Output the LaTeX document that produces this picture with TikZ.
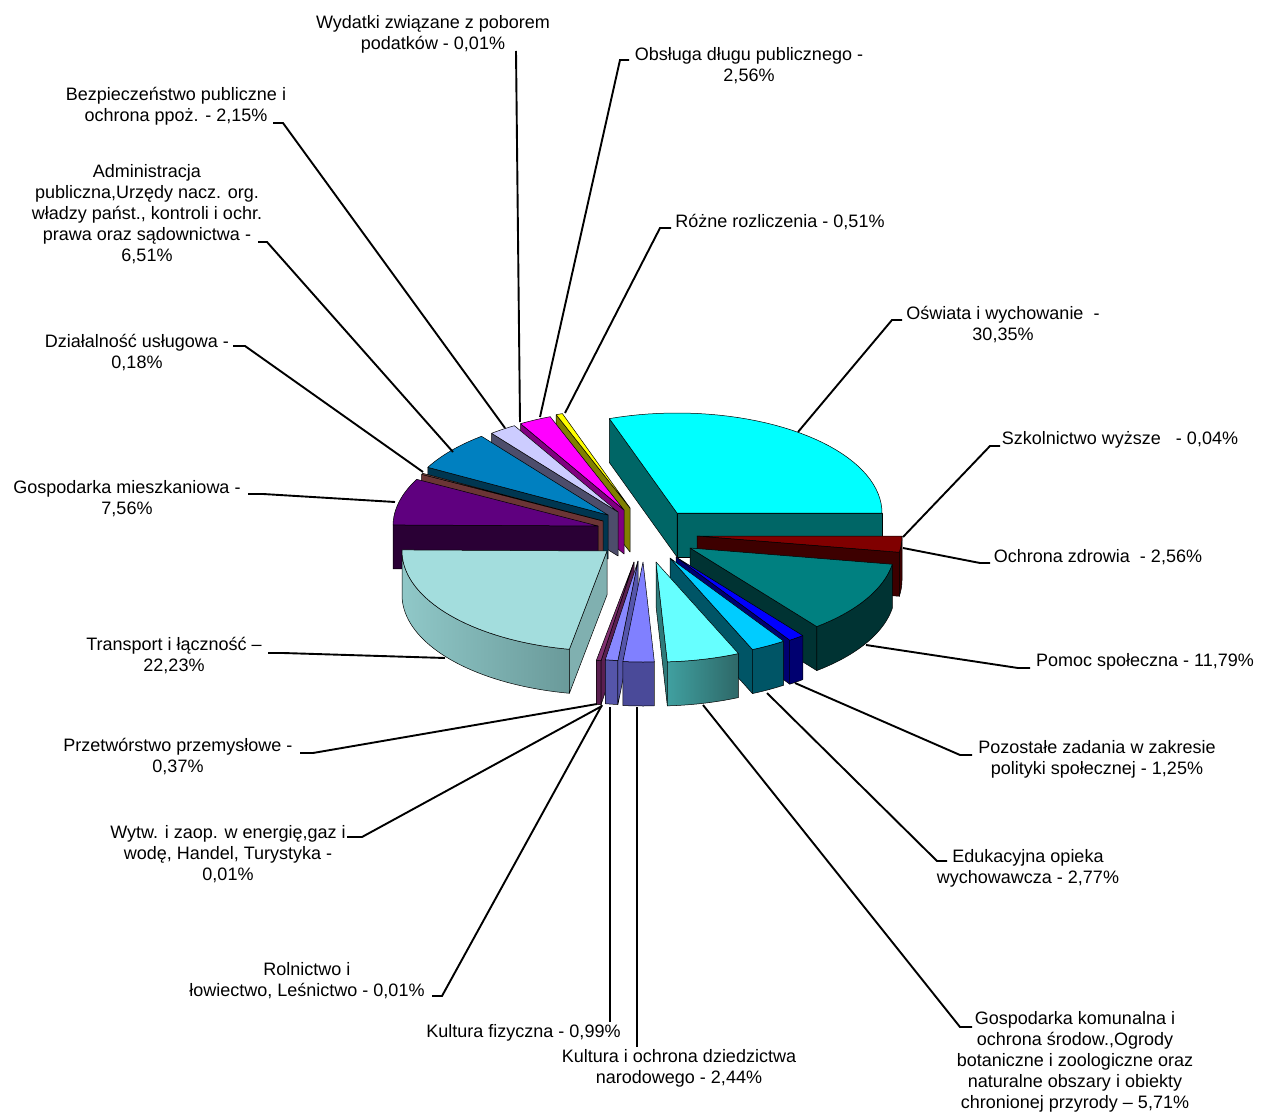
\documentclass[tikz,border=0pt]{standalone}
\usepackage{fontspec}
\setmainfont{Liberation Sans}
\definecolor{cyn}{HTML}{00FFFF}\definecolor{cynS}{HTML}{006666}
\definecolor{ylw}{HTML}{FFFF00}\definecolor{ylwS}{HTML}{808000}
\definecolor{mag}{HTML}{FF00FF}\definecolor{magS}{HTML}{800080}
\definecolor{lav}{HTML}{CCCCFF}\definecolor{lavS}{HTML}{4D4D6B}
\definecolor{adm}{HTML}{0080C0}\definecolor{admS}{HTML}{003650}
\definecolor{brn}{HTML}{9C5A50}\definecolor{brnS}{HTML}{6B3535}
\definecolor{pur}{HTML}{5F007F}\definecolor{purS}{HTML}{2A0035}
\definecolor{rdd}{HTML}{800000}\definecolor{rddS}{HTML}{3D0000}
\definecolor{tea}{HTML}{008080}\definecolor{teaS}{HTML}{003333}
\definecolor{trn}{HTML}{A3DDDD}\definecolor{trnS}{HTML}{80B0B0}
\definecolor{trnL}{HTML}{90C8C8}\definecolor{trnR}{HTML}{6A9A9A}
\definecolor{blu}{HTML}{0000FF}\definecolor{bluS}{HTML}{000070}
\definecolor{sky}{HTML}{00CCFF}\definecolor{skyS}{HTML}{005566}
\definecolor{prz}{HTML}{7F2F6F}\definecolor{przS}{HTML}{5A1F50}
\definecolor{kf}{HTML}{8888FF}\definecolor{kfS}{HTML}{5555AA}
\definecolor{ko}{HTML}{8080FF}\definecolor{koS}{HTML}{4A4A99}
\definecolor{gk}{HTML}{66FFFF}\definecolor{gkS}{HTML}{2E7A7A}
\definecolor{gkL}{HTML}{40A0A0}\definecolor{gkR}{HTML}{2E6868}
\def\ra{205}\def\rb{100}\def\dd{44}
\tikzset{
  lbl/.style={align=center, inner sep=0pt, font=\fontsize{18}{21}\selectfont},
  leader/.style={line width=1.9pt, black, line join=miter},
  face/.style={draw=black, line width=0.5pt, line join=round},
}
\newcommand{\drawslice}[8]{%
  \pgfmathsetmacro\cS{cos(#3)}%
  \pgfmathsetmacro\cE{cos(#4)}%
  \pgfmathsetmacro\lo{max(#3,180)}%
  \pgfmathsetmacro\hi{min(#4,360)}%
  \ifdim\cS pt>0.001pt
    \path[face,fill=#6] (#1,#2) -- ({#1+\ra*cos(#3)},{#2-\rb*sin(#3)}) -- ++(0,\dd) -- ({#1},{#2+\dd}) -- cycle;
  \fi
  \ifdim\hi pt>\lo pt
    \path[face,left color=#7,right color=#8] plot[domain=\lo:\hi,samples=40] ({#1+\ra*cos(\x)},{#2-\rb*sin(\x)}) -- plot[domain=\hi:\lo,samples=40] ({#1+\ra*cos(\x)},{#2-\rb*sin(\x)+\dd}) -- cycle;
  \fi
  \ifdim\cE pt<-0.001pt
    \path[face,fill=#6] (#1,#2) -- ({#1+\ra*cos(#4)},{#2-\rb*sin(#4)}) -- ++(0,\dd) -- ({#1},{#2+\dd}) -- cycle;
  \fi
  \path[face,fill=#5] (#1,#2) -- plot[domain=#3:#4,samples=40] ({#1+\ra*cos(\x)},{#2-\rb*sin(\x)}) -- cycle;
}
\begin{document}
\begin{tikzpicture}[x=1pt,y=-1pt]
\useasboundingbox[fill=white] (0,0) rectangle (1261,1115);

% slices, back to front
\drawslice{630}{508}{109.26}{111.10}{ylw}{ylwS}{ylwS}{ylwS}
\drawslice{624}{510}{111.10}{120.31}{mag}{magS}{magS}{magS}
\drawslice{618}{512}{120.35}{128.09}{lav}{lavS}{lavS}{lavS}
\drawslice{677}{513}{0}{109.26}{cyn}{cynS}{cynS}{cynS}
\drawslice{608}{515}{128.09}{151.52}{adm}{admS}{admS}{admS}
\drawslice{603}{521}{151.52}{152.17}{brn}{brnS}{brnS}{brnS}
\drawslice{598}{526}{152.17}{179.39}{pur}{purS}{purS}{purS}
\drawslice{697}{536}{350.64}{359.86}{rdd}{rddS}{rddS}{rddS}
\drawslice{690}{548}{308.20}{350.64}{tea}{teaS}{teaS}{teaS}
\drawslice{607}{551}{179.39}{259.42}{trn}{trnS}{trnL}{trnR}
\drawslice{676}{557}{303.70}{308.20}{blu}{bluS}{bluS}{bluS}
\drawslice{670}{558}{293.72}{303.70}{sky}{skyS}{skyS}{skyS}
\drawslice{634}{562}{259.42}{260.75}{prz}{przS}{przS}{przS}
\drawslice{656}{562}{273.17}{293.72}{gk}{gkS}{gkL}{gkR}
\drawslice{638}{561}{260.82}{264.38}{kf}{kfS}{kfS}{kfS}
\drawslice{643}{562}{264.38}{273.17}{ko}{koS}{koS}{koS}

% labels
\node[lbl] (Lwyd) at (433,34) {Wydatki związane z poborem\\podatków - 0,01\%};
\node[lbl] (Lobs) at (749,66) {Obsługa długu publicznego -\\2,56\%};
\node[lbl] (Lroz) at (780,222) {Różne rozliczenia - 0,51\%};
\node[lbl] (Losw) at (1003,324.5) {Oświata i wychowanie \ -\\30,35\%};
\node[lbl] (Lszk) at (1120,440) {Szkolnictwo wyższe\ \ \ - 0,04\%};
\node[lbl] (Lozd) at (1098,557) {Ochrona zdrowia\ \ - 2,56\%};
\node[lbl] (Lpom) at (1145,662) {Pomoc społeczna - 11,79\%};
\node[lbl] (Lpoz) at (1097,759.5) {Pozostałe zadania w zakresie\\polityki społecznej - 1,25\%};
\node[lbl] (Ledu) at (1028,868) {Edukacyjna opieka\\wychowawcza - 2,77\%};
\node[lbl] (Lgk) at (1075,1062) {Gospodarka komunalna i\\ochrona środow.,Ogrody\\botaniczne i zoologiczne oraz\\naturalne obszary i obiekty\\chronionej przyrody – 5,71\%};
\node[lbl] (Lko) at (679,1068) {Kultura i ochrona dziedzictwa\\narodowego - 2,44\%};
\node[lbl] (Lkf) at (523.5,1033) {Kultura fizyczna - 0,99\%};
\node[lbl] (Lrol) at (307,980.5) {Rolnictwo i\\łowiectwo, Leśnictwo - 0,01\%};
\node[lbl] (Lwyt) at (228,854.5) {Wytw. i zaop. w energię,gaz i\\wodę, Handel, Turystyka -\\0,01\%};
\node[lbl] (Lprz) at (178,757) {Przetwórstwo przemysłowe -\\0,37\%};
\node[lbl] (Ltrn) at (174,656) {Transport i łączność –\\22,23\%};
\node[lbl] (Lgm) at (127,499) {Gospodarka mieszkaniowa -\\7,56\%};
\node[lbl] (Ldz) at (137,353) {Działalność usługowa -\\0,18\%};
\node[lbl] (Ladm) at (147,214.5) {Administracja\\publiczna,Urzędy nacz. org.\\władzy państ., kontroli i ochr.\\prawa oraz sądownictwa -\\6,51\%};
\node[lbl] (Lbez) at (176,106.5) {Bezpieczeństwo publiczne i\\ochrona ppoż. - 2,15\%};

% leader coordinates
\coordinate (wyd1) at (516,51);   \coordinate (wyd2) at (520,422);
\coordinate (obs0) at (629,60);   \coordinate (obs1) at (620,60);   \coordinate (obs2) at (540,417);
\coordinate (roz0) at (671,228);  \coordinate (roz1) at (660,228);  \coordinate (roz2) at (565,413);
\coordinate (osw0) at (902,320);  \coordinate (osw1) at (892,320);  \coordinate (osw2) at (798,432);
\coordinate (szk0) at (1000,446); \coordinate (szk1) at (990,446);  \coordinate (szk2) at (903,537);
\coordinate (ozd0) at (990,563);  \coordinate (ozd1) at (980,563);  \coordinate (ozd2) at (903,548);
\coordinate (pom0) at (1030,668); \coordinate (pom1) at (1018,668); \coordinate (pom2) at (866,645);
\coordinate (poz0) at (972,755);  \coordinate (poz1) at (960,755);  \coordinate (poz2) at (795,683);
\coordinate (edu0) at (947,861);  \coordinate (edu1) at (937,861);  \coordinate (edu2) at (767,693);
\coordinate (gk0) at (972,1027);  \coordinate (gk1) at (960,1027);  \coordinate (gk2) at (703,705);
\coordinate (ko1) at (637,1047);  \coordinate (ko2) at (637,707);
\coordinate (kf1) at (610,1022);  \coordinate (kf2) at (610,707);
\coordinate (rol0) at (432,996);  \coordinate (rol1) at (442,996);  \coordinate (rol2) at (602,705);
\coordinate (wyt0) at (347,837);  \coordinate (wyt1) at (362,837);  \coordinate (wyt2) at (602,706);
\coordinate (prz0) at (300,753);  \coordinate (prz1) at (313,753);  \coordinate (prz2) at (597,704);
\coordinate (trn0) at (268,653);  \coordinate (trn1) at (283,653);  \coordinate (trn2) at (445,658);
\coordinate (gm0) at (248,494);   \coordinate (gm1) at (263,494);   \coordinate (gm2) at (395,502);
\coordinate (dz0) at (233,346);   \coordinate (dz1) at (245,346);   \coordinate (dz2) at (423,472);
\coordinate (adm0) at (258,242);  \coordinate (adm1) at (267,242);  \coordinate (adm2) at (453,452);
\coordinate (bez0) at (273,123);  \coordinate (bez1) at (283,123);  \coordinate (bez2) at (505,428);

% leader lines
\draw[leader] (wyd1) -- (wyd2);
\draw[leader] (obs0) -- (obs1) -- (obs2);
\draw[leader] (roz0) -- (roz1) -- (roz2);
\draw[leader] (osw0) -- (osw1) -- (osw2);
\draw[leader] (szk0) -- (szk1) -- (szk2);
\draw[leader] (ozd0) -- (ozd1) -- (ozd2);
\draw[leader] (pom0) -- (pom1) -- (pom2);
\draw[leader] (poz0) -- (poz1) -- (poz2);
\draw[leader] (edu0) -- (edu1) -- (edu2);
\draw[leader] (gk0) -- (gk1) -- (gk2);
\draw[leader] (ko1) -- (ko2);
\draw[leader] (kf1) -- (kf2);
\draw[leader] (rol0) -- (rol1) -- (rol2);
\draw[leader] (wyt0) -- (wyt1) -- (wyt2);
\draw[leader] (prz0) -- (prz1) -- (prz2);
\draw[leader] (trn0) -- (trn1) -- (trn2);
\draw[leader] (gm0) -- (gm1) -- (gm2);
\draw[leader] (dz0) -- (dz1) -- (dz2);
\draw[leader] (adm0) -- (adm1) -- (adm2);
\draw[leader] (bez0) -- (bez1) -- (bez2);
\end{tikzpicture}
\end{document}
